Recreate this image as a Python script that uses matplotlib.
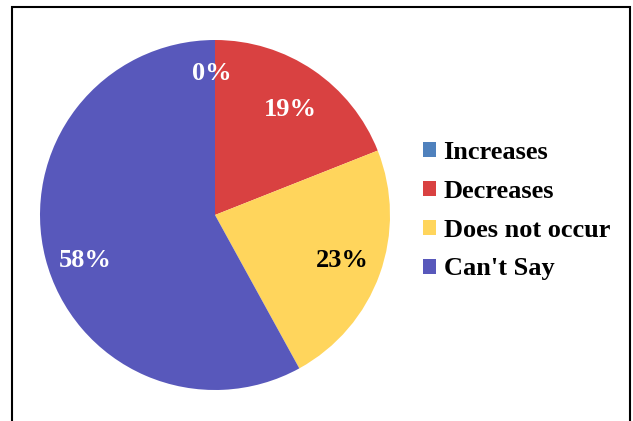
import matplotlib.pyplot as plt
from matplotlib.patches import Rectangle

labels = ['Increases', 'Decreases', 'Does not occur', "Can't Say"]
shares = [0, 19, 23, 58]
colors = ['#4f81bd', '#d94141', '#ffd55c', '#5858bb']
pct_colors = ['white', 'white', 'black', 'white']
# where each percentage label sits, in pie-radius units
pct_pos = [(-0.02, 0.81), (0.43, 0.60), (0.725, -0.26), (-0.74, -0.26)]

plt.rcParams['font.family'] = 'Liberation Serif'
plt.rcParams['font.weight'] = 'bold'

fig = plt.figure(figsize=(6.33, 4.21), dpi=100)

# chart border (bottom edge runs off the picture)
fig.patches.append(Rectangle((12 / 633, -0.05), 618 / 633, 1 - 7 / 421 + 0.05,
                             transform=fig.transFigure, fill=False,
                             edgecolor='black', linewidth=1.5))

# pie centred at (215, 215) px, radius 175 px
ax = fig.add_axes([40 / 633, (421 - 390) / 421, 350 / 633, 350 / 421])
wedges, texts, autotexts = ax.pie(shares, colors=colors, startangle=90,
                                  counterclock=False, autopct='%d%%',
                                  pctdistance=0.77, radius=1.0)
ax.set_xlim(-1, 1)
ax.set_ylim(-1, 1)
ax.set_aspect('equal')
for t, c, p in zip(autotexts, pct_colors, pct_pos):
    t.set_color(c)
    t.set_fontsize(19)
    t.set_fontweight('bold')
    t.set_position(p)

leg = fig.legend(wedges, labels, loc='upper left',
                 bbox_to_anchor=(415 / 633, 1 - 133 / 421),
                 frameon=False, prop={'size': 19, 'weight': 'bold'},
                 handlelength=0.5, handleheight=0.5, handletextpad=0.28,
                 labelspacing=0.6, borderaxespad=0, borderpad=0.3)

fig.savefig('out.png', dpi=100)
